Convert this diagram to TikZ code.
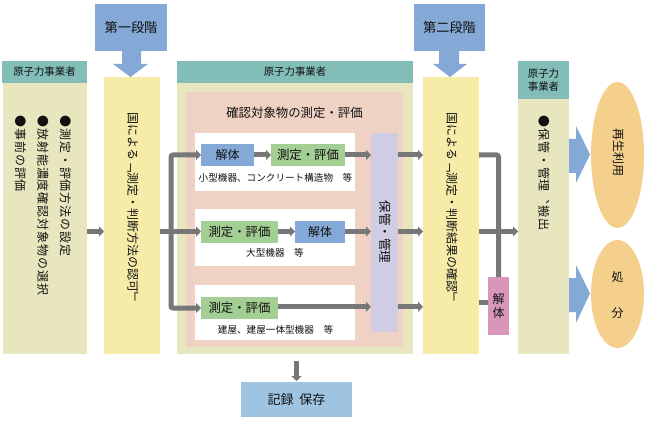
\documentclass[tikz,border=0pt]{standalone}
\usepackage{fontspec}
\usetikzlibrary{arrows.meta,shapes.geometric}
\setmainfont{Noto Sans CJK JP}
\newfontfamily\vcjk[Vertical=RotatedGlyphs]{Noto Sans CJK JP}
\newfontfamily\vcjkw[Vertical=RotatedGlyphs,LetterSpace=8]{Noto Sans CJK JP}
\definecolor{teal0}{HTML}{82BDB8}
\definecolor{olive0}{HTML}{E8E6BE}
\definecolor{yellow0}{HTML}{F7EBA8}
\definecolor{pink0}{HTML}{EFD2C3}
\definecolor{blue0}{HTML}{84A9D6}
\definecolor{green0}{HTML}{A3CE94}
\definecolor{lilac0}{HTML}{CFCCE4}
\definecolor{sky0}{HTML}{9FC4E2}
\definecolor{orange0}{HTML}{F5CF8C}
\definecolor{mauve0}{HTML}{D896BA}
\definecolor{gray0}{HTML}{777777}
\definecolor{ink0}{HTML}{111111}
\tikzset{
  bx/.style n args={3}{draw=none,fill=#1,anchor=north west,inner sep=0pt,outer sep=0pt,
    minimum width=#2pt,minimum height=#3pt,text=ink0,align=center},
  conn/.style={draw=gray0,line width=5pt,-{Triangle[length=5pt,width=10pt]}},
  bar/.style={draw=gray0,line width=5pt},
  vt/.style={rotate=-90,text=ink0,inner sep=0pt,font=\fontsize{12}{12}\vcjk},
  vw/.style={rotate=-90,text=ink0,inner sep=0pt,font=\fontsize{12}{22.5}\vcjkw,align=left,anchor=west},
  lbl/.style={text=ink0,inner sep=0pt},
  big/.style={fill=blue0}
}
\begin{document}
\begin{tikzpicture}[x=1pt,y=-1pt]
\useasboundingbox (0,0) rectangle (647,422);
% left operator
\node[bx={olive0}{84}{271}] (lb) at (3,83) {};
\node[bx={teal0}{85}{22},font=\fontsize{10.4}{10.4}\selectfont] (lh) at (2,61) {原子力事業者};
\node[vw] (lt) at (43,115) {●測定・評価方法の設定\\●放射能濃度確認対象物の選択\\●事前の評価};
% first stage
\node[bx={yellow0}{56}{277}] (y1) at (104,77) {};
\node[vt] (y1t) at (133,208.5) {国による「測定・判断方法の認可」};
\node[bx={blue0}{72}{47},font=\fontsize{13.2}{13.2}\selectfont] (s1) at (95,4) {第一段階};
\fill[big] (122,51) -- (141,51) -- (141,64) -- (148,64) -- (130.5,77) -- (113,64) -- (122,64) -- cycle;
% middle operator
\node[bx={olive0}{236}{271}] (mb) at (177,83) {};
\node[bx={teal0}{236}{22},font=\fontsize{10.4}{10.4}\selectfont] (mh) at (177,61) {原子力事業者};
\node[bx={pink0}{217}{255}] (pk) at (186,92) {};
\node[lbl,font=\fontsize{12.4}{12.4}\selectfont] (pkt) at (294.5,113) {確認対象物の測定・評価};
\node[bx={white}{160}{58}] (w1) at (195,133) {};
\node[bx={white}{160}{57}] (w2) at (195,209) {};
\node[bx={white}{160}{55}] (w3) at (195,285) {};
\node[bx={blue0}{53}{22},font=\fontsize{12}{12}\selectfont] (k1) at (201,144) {解体};
\node[bx={green0}{74}{22},font=\fontsize{12.4}{12.4}\selectfont] (m1) at (271,144) {測定・評価};
\node[lbl,font=\fontsize{9.6}{9.6}\selectfont] (c1) at (275.5,178) {小型機器、コンクリート構造物　等};
\node[bx={green0}{77}{22},font=\fontsize{12.4}{12.4}\selectfont] (m2) at (201,220.5) {測定・評価};
\node[bx={blue0}{50}{22},font=\fontsize{12}{12}\selectfont] (k2) at (295,220.5) {解体};
\node[lbl,font=\fontsize{9.6}{9.6}\selectfont] (c2) at (275,253) {大型機器　等};
\node[bx={green0}{77}{22},font=\fontsize{12.4}{12.4}\selectfont] (m3) at (201,297) {測定・評価};
\node[lbl,font=\fontsize{9.6}{9.6}\selectfont] (c3) at (275.5,330) {建屋、建屋一体型機器　等};
\node[bx={lilac0}{27}{199}] (st) at (371,133) {};
\node[vt,font=\fontsize{12.5}{12.5}\vcjk] (stt) at (385.5,232) {保管・管理};
% record
\node[bx={sky0}{111}{35},font=\fontsize{13}{13}\selectfont] (rc) at (241,382) {記録\hspace{6pt}保存};
% second stage
\node[bx={yellow0}{56}{277}] (y2) at (423,77) {};
\node[vt] (y2t) at (452,208.5) {国による「測定・判断結果の確認」};
\node[bx={blue0}{71}{47},font=\fontsize{13.2}{13.2}\selectfont] (s2) at (414,4) {第二段階};
\fill[big] (439,51) -- (459,51) -- (459,64) -- (467,64) -- (450,77) -- (433,64) -- (439,64) -- cycle;
% right operator
\node[bx={olive0}{51}{255}] (rb) at (518,99) {};
\node[bx={teal0}{51}{38},font=\fontsize{10.4}{12.5}\selectfont] (rh) at (518,61) {原子力\\事業者};
\node[vw,font=\fontsize{12}{12}\vcjkw] (rt) at (544,115) {●保管・管理、搬出};
% outcomes
\node[ellipse,fill=orange0,draw=none,inner sep=0pt,minimum width=53pt,minimum height=146pt] (e1) at (617.5,155) {};
\node[vt] (e1t) at (618.5,153) {再生利用};
\node[ellipse,fill=orange0,draw=none,inner sep=0pt,minimum width=53pt,minimum height=108pt] (e2) at (617.5,294) {};
\node[lbl,font=\fontsize{12}{12}\selectfont] (e2a) at (617.5,277) {処};
\node[lbl,font=\fontsize{12}{12}\selectfont] (e2b) at (617.5,313) {分};
\fill[big] (569,139) -- (576,139) -- (576,126) -- (590,154.5) -- (576,183) -- (576,173) -- (569,173) -- cycle;
\fill[big] (569,278) -- (576,278) -- (576,265) -- (590,293.5) -- (576,323) -- (576,312) -- (569,312) -- cycle;
% connectors
\coordinate (row3) at ([yshift=1.2pt]m3.east);
\draw[conn] (lb.east |- m2.west) -- (y1.west |- m2.west);
\draw[conn] (y1.east |- m2.west) -- (m2.west);
\coordinate (bus) at (171,231);
\draw[draw=gray0,line width=5pt,rounded corners=2pt,{Triangle[length=5pt,width=10pt]}-{Triangle[length=5pt,width=10pt]}] (k1.west) -| (bus) |- (m3.west);
\draw[conn] (k1.east) -- (m1.west);
\draw[conn] (m2.east) -- (k2.west);
\draw[conn] (m1.east) -- (m1.east -| st.west);
\draw[conn] (k2.east) -- (k2.east -| st.west);
\draw[conn] (row3) -- (row3 -| st.west);
\draw[conn] (st.east |- m1.east) -- (y2.west |- m1.east);
\draw[conn] (st.east |- k2.east) -- (y2.west |- k2.east);
\draw[conn] (st.east |- row3) -- (y2.west |- row3);
\draw[conn,shorten <=7pt,shorten >=1pt] (mb.south -| rc.north) -- (rc.north);
\node[bx={mauve0}{21}{58},font=\fontsize{12}{14}\selectfont] (dk) at (488,277) {解\\体};
\draw[bar,rounded corners=2pt] (y2.east |- m1.east) -| (dk.north);
\draw[conn] (y2.east |- k2.east) -- (rb.west |- k2.east);
\coordinate (dkin) at (488,302);
\draw[bar] (y2.east |- dkin) -- (dkin);
\end{tikzpicture}
\end{document}
